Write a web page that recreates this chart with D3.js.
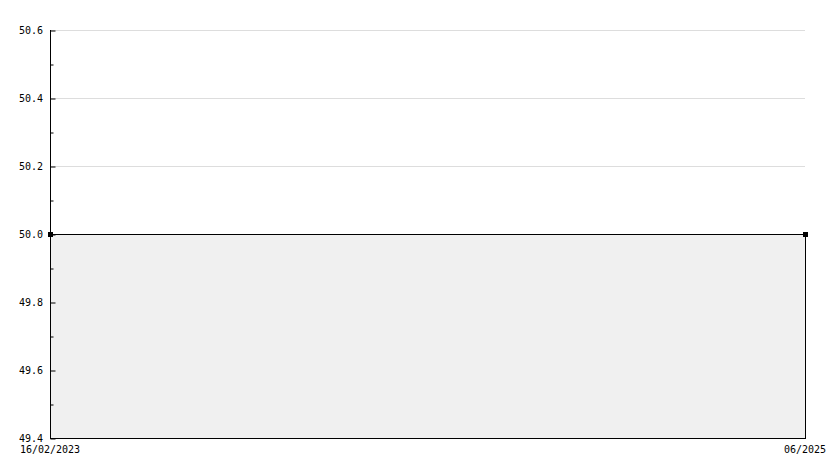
<!DOCTYPE html>
<html>
<head>
<meta charset="utf-8">
<script src="https://cdn.jsdelivr.net/npm/d3@7"></script>
<style>
  body { margin: 0; background: #fff; }
  text { font-family: "DejaVu Sans Mono", monospace; font-size: 10px; fill: #000; }
</style>
</head>
<body>
<svg id="chart" width="834" height="468"></svg>
<script>
// data
var dates = ['2023-02-16', '2025-06-01'];
var values = [50.0, 50.0];
var xLabels = ['16/02/2023', '06/2025'];
var yTicks = [49.4, 49.6, 49.8, 50.0, 50.2, 50.4, 50.6];
var yMinor = [49.5, 49.7, 49.9, 50.1, 50.3, 50.5];

var parse = d3.timeParse('%Y-%m-%d');
var points = dates.map(function (d, i) { return { date: parse(d), value: values[i] }; });

var svg = d3.select('#chart');
// plot box (note: "top" is reserved on window, so use a prefix)
var pLeft = 50, pRight = 805, pTop = 30, pBottom = 438;

var x = d3.scaleTime().domain(d3.extent(points, function (d) { return d.date; })).range([pLeft, pRight]);
var y = d3.scaleLinear().domain([49.4, 50.6]).range([pBottom, pTop]);

// gridlines
svg.append('g').selectAll('line').data(yTicks.filter(function (t) { return t > 49.4; }))
  .enter().append('line')
  .attr('x1', pLeft).attr('x2', pRight)
  .attr('y1', function (d) { return Math.round(y(d)) + 0.5; })
  .attr('y2', function (d) { return Math.round(y(d)) + 0.5; })
  .attr('stroke', '#dddddd');

// area under the line
var area = d3.area()
  .x(function (d) { return x(d.date); })
  .y0(y(49.4))
  .y1(function (d) { return y(d.value); });
svg.append('path').datum(points)
  .attr('d', area)
  .attr('fill', '#f0f0f0')
  .attr('stroke', '#000')
  .attr('stroke-width', 1)
  .attr('transform', 'translate(0.5,0.5)');

// y axis ticks, pointing inside
var yAxis = d3.axisRight(y).tickValues(yTicks).tickSize(5).tickFormat('');
var gy = svg.append('g').attr('transform', 'translate(' + (pLeft + 0.5) + ',0.5)').call(yAxis);
gy.select('.domain').remove();
gy.selectAll('line').attr('stroke', '#000');
var yAxisMinor = d3.axisRight(y).tickValues(yMinor).tickSize(3).tickFormat('');
var gym = svg.append('g').attr('transform', 'translate(' + (pLeft + 0.5) + ',0.5)').call(yAxisMinor);
gym.select('.domain').remove();
gym.selectAll('line').attr('stroke', '#000');

svg.append('line').attr('x1', pLeft + 0.5).attr('x2', pLeft + 0.5).attr('y1', pTop).attr('y2', pBottom + 1).attr('stroke', '#000');
svg.append('line').attr('x1', pLeft).attr('x2', pRight + 1).attr('y1', pBottom + 0.5).attr('y2', pBottom + 0.5).attr('stroke', '#000');

// y labels
svg.append('g').selectAll('text').data(yTicks).enter().append('text')
  .attr('x', pLeft - 7)
  .attr('y', function (d) { return y(d); })
  .attr('dy', '0.35em')
  .attr('text-anchor', 'end')
  .text(function (d) { return d3.format('.1f')(d); });

// x labels
svg.append('g').selectAll('text').data(points).enter().append('text')
  .attr('x', function (d) { return x(d.date); })
  .attr('y', pBottom + 15)
  .attr('text-anchor', 'middle')
  .text(function (d, i) { return xLabels[i]; });

// points
svg.append('g').selectAll('rect').data(points).enter().append('rect')
  .attr('x', function (d) { return x(d.date) - 2; })
  .attr('y', function (d) { return y(d.value) - 2; })
  .attr('width', 5).attr('height', 5)
  .attr('fill', '#000');
</script>
</body>
</html>
